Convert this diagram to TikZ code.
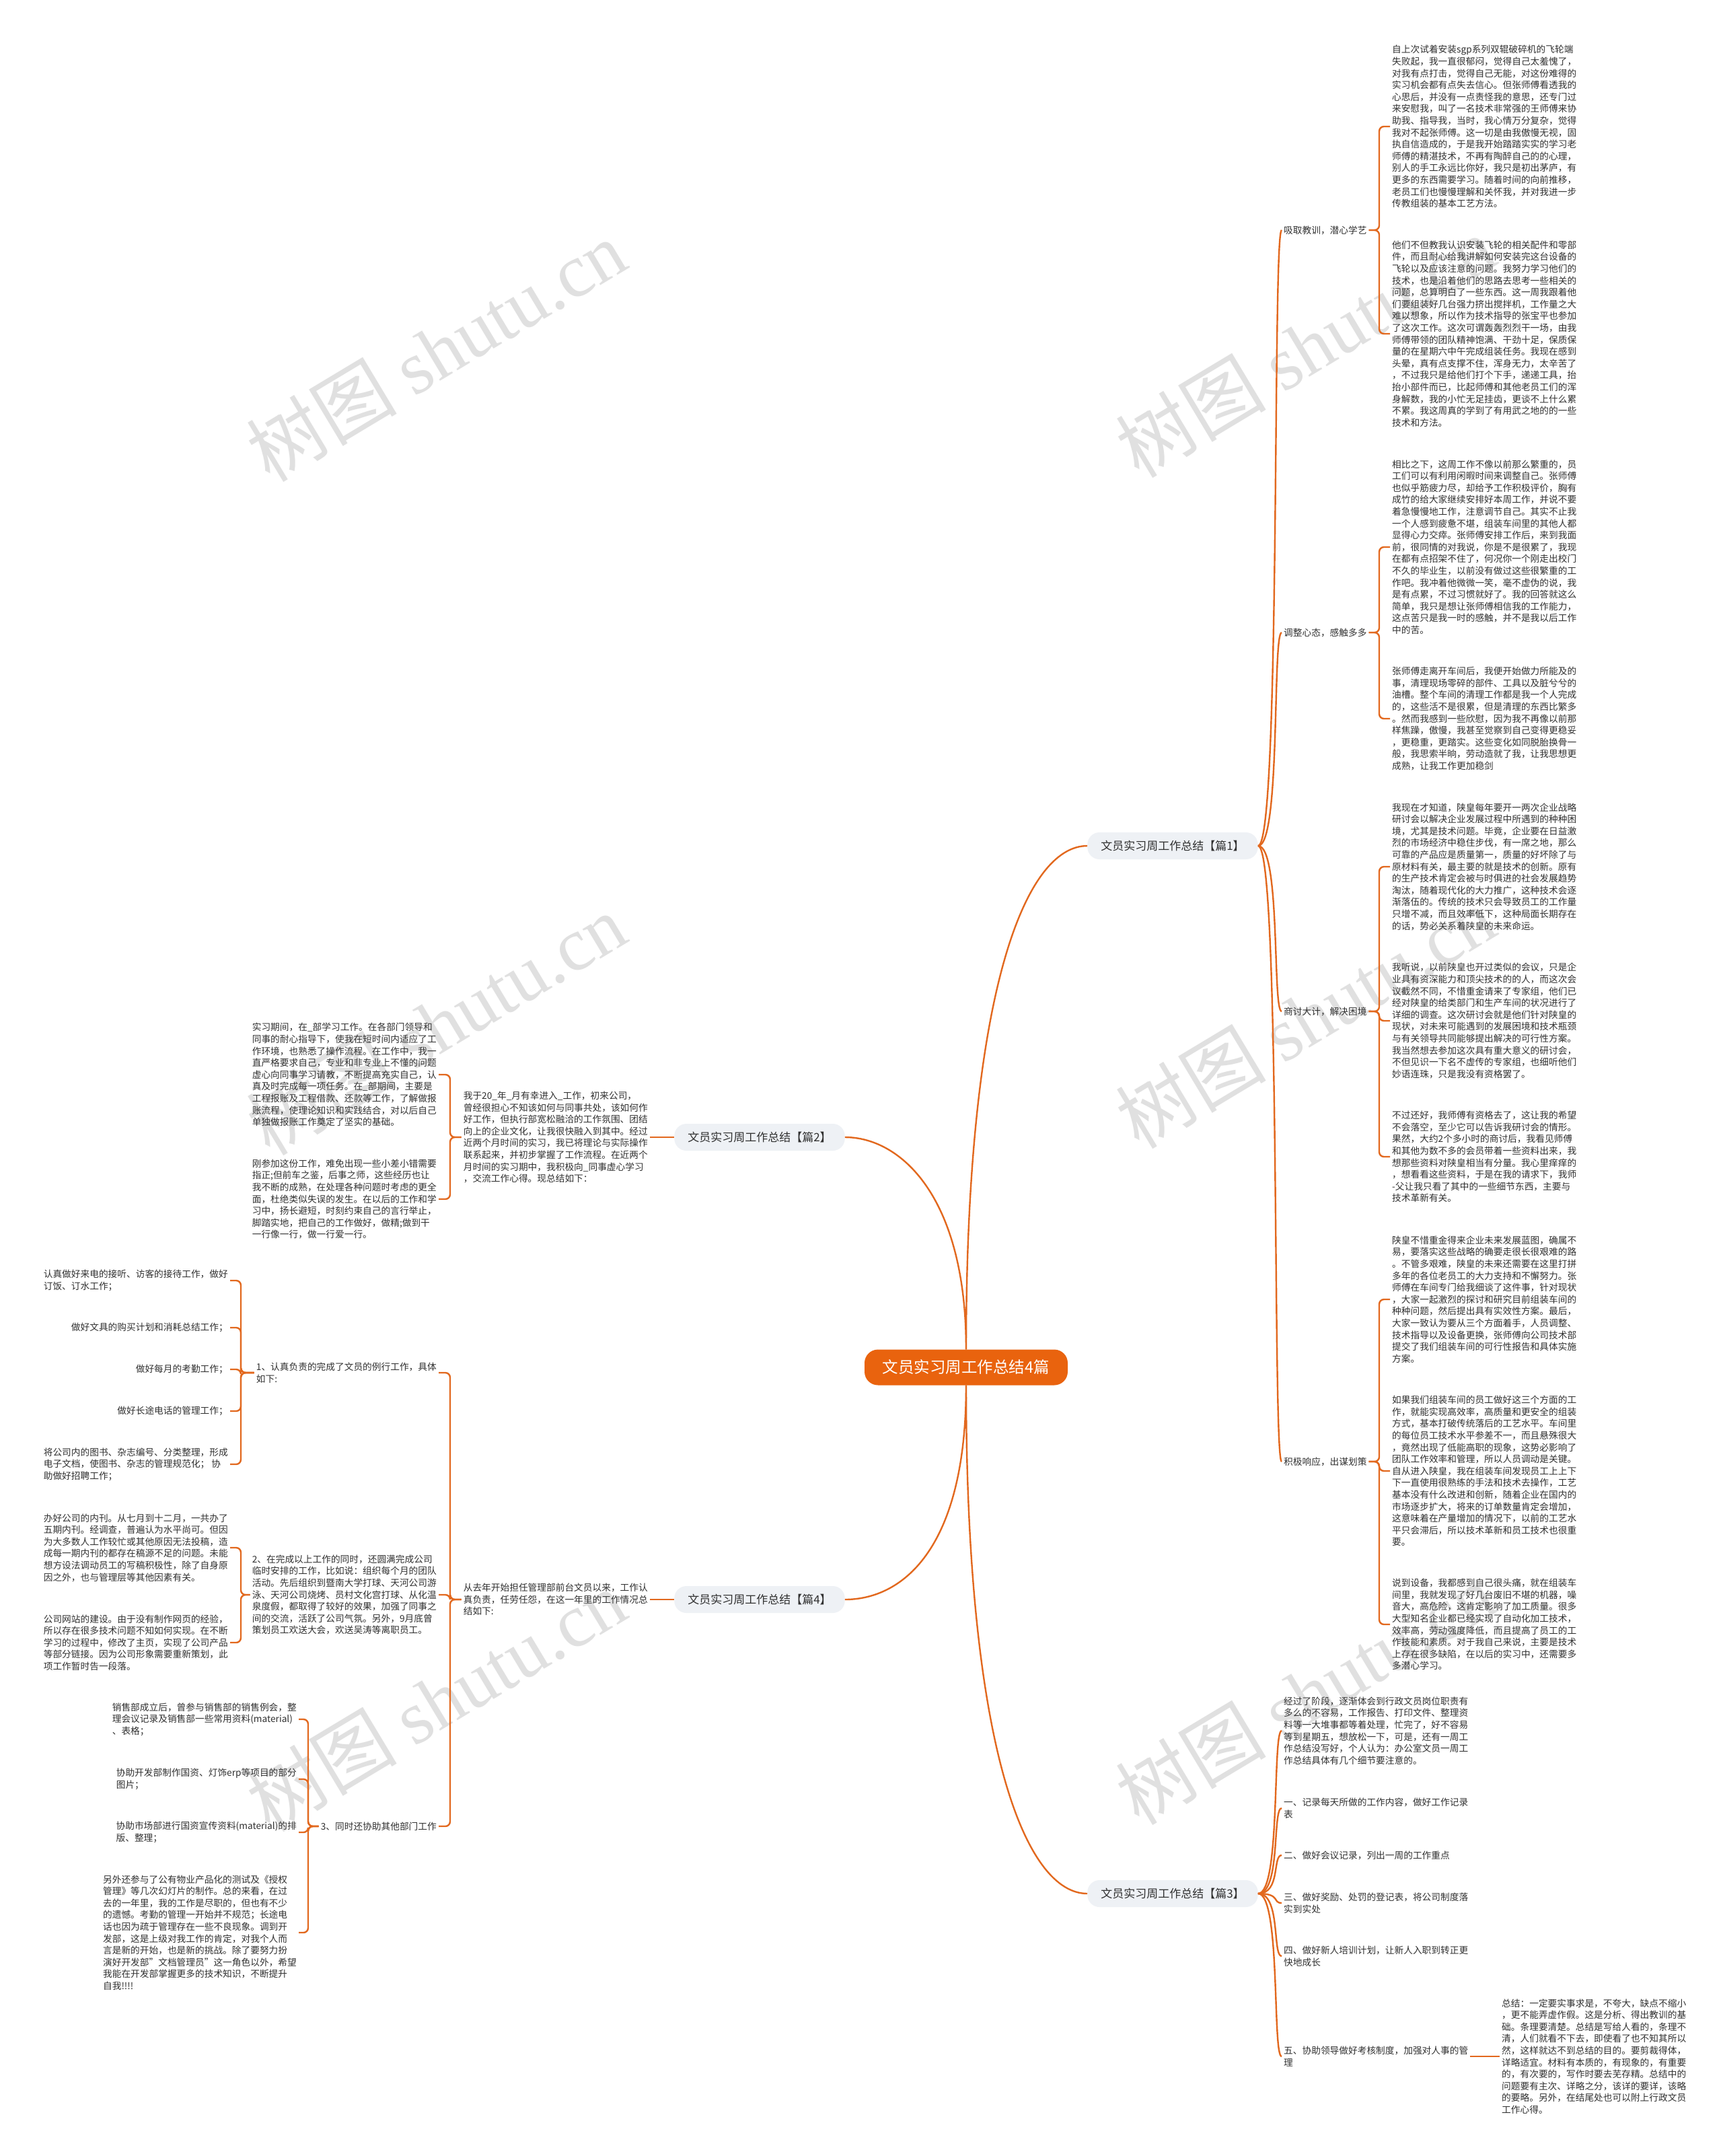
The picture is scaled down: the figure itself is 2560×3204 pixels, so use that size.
\documentclass[tikz,border=0pt]{standalone}
\usepackage{fontspec}
\setmainfont{Noto Sans CJK SC}
\newfontfamily\wmserif{Liberation Serif}
\usetikzlibrary{calc}
\definecolor{lineor}{RGB}{226,104,30}
\definecolor{rootor}{RGB}{233,99,14}
\definecolor{topicbg}{RGB}{238,241,245}
\definecolor{textc}{RGB}{48,48,48}
\definecolor{wmc}{RGB}{224,224,224}
\tikzset{
  conn/.style={draw=lineor, line width=2.4pt, rounded corners=7pt},
  curv/.style={draw=lineor, line width=2.4pt},
  txt/.style={font=\fontsize{13.7}{17.6}\selectfont, text=textc, align=left, inner sep=3pt},
  topic/.style={font=\fontsize{17}{20}\selectfont, text=textc, fill=topicbg, rounded corners=18pt, inner xsep=20pt, minimum height=40pt},
  root/.style={fill=rootor, text=white, rounded corners=20pt, font=\fontsize{23.5}{28}\selectfont, minimum width=302pt, minimum height=53pt},
  wm/.style={text=wmc, rotate=31, font=\fontsize{112}{120}\selectfont, inner sep=0pt}
}
\begin{document}
\begin{tikzpicture}[x=1pt,y=-1pt]
\fill[white] (0,0) rectangle (2560,3204);
\useasboundingbox (0,0) rectangle (2560,3204);
% watermarks
\node[wm] (wm1) at (648,521) {树图 {\wmserif shutu.cn}};
\node[wm] (wm2) at (1940,515) {树图 {\wmserif shutu.cn}};
\node[wm] (wm3) at (648,1522) {树图 {\wmserif shutu.cn}};
\node[wm] (wm4) at (1940,1512) {树图 {\wmserif shutu.cn}};
\node[wm] (wm5) at (648,2527) {树图 {\wmserif shutu.cn}};
\node[wm] (wm6) at (1940,2517) {树图 {\wmserif shutu.cn}};

% level 1
\node[root] (root) at (1436,2032) {文员实习周工作总结4篇};
\node[topic] (p1) at (1743,1257) {文员实习周工作总结【篇1】};
\node[topic] (p3) at (1743,2814) {文员实习周工作总结【篇3】};
\node[topic] (p2) at (1129,1690) {文员实习周工作总结【篇2】};
\node[topic] (p4) at (1129,2377) {文员实习周工作总结【篇4】};

% ===== 篇1 =====
\node[txt, anchor=west] (a1) at (1905,342) {吸取教训，潜心学艺};
\node[txt, anchor=west] (a2) at (1905,940) {调整心态，感触多多};
\node[txt, anchor=west] (a3) at (1905,1503) {商讨大计，解决困境};
\node[txt, anchor=west] (a4) at (1905,2172) {积极响应，出谋划策};

\node[txt, anchor=west] (r1) at (2066,188) {自上次试着安装sgp系列双辊破碎机的飞轮端\\失败起，我一直很郁闷，觉得自己太羞愧了，\\对我有点打击，觉得自己无能，对这份难得的\\实习机会都有点失去信心。但张师傅看透我的\\心思后，并没有一点责怪我的意思，还专门过\\来安慰我，叫了一名技术非常强的王师傅来协\\助我、指导我，当时，我心情万分复杂，觉得\\我对不起张师傅。这一切是由我傲慢无视，固\\执自信造成的，于是我开始踏踏实实的学习老\\师傅的精湛技术，不再有陶醉自己的的心理，\\别人的手工永远比你好，我只是初出茅庐，有\\更多的东西需要学习。随着时间的向前推移，\\老员工们也慢慢理解和关怀我，并对我进一步\\传教组装的基本工艺方法。};
\node[txt, anchor=west] (r2) at (2066,496) {他们不但教我认识安装飞轮的相关配件和零部\\件，而且耐心给我讲解如何安装完这台设备的\\飞轮以及应该注意的问题。我努力学习他们的\\技术，也是沿着他们的思路去思考一些相关的\\问题，总算明白了一些东西。这一周我跟着他\\们要组装好几台强力挤出搅拌机，工作量之大\\难以想象，所以作为技术指导的张宝平也参加\\了这次工作。这次可谓轰轰烈烈干一场，由我\\师傅带领的团队精神饱满、干劲十足，保质保\\量的在星期六中午完成组装任务。我现在感到\\头晕，真有点支撑不住，浑身无力，太辛苦了\\，不过我只是给他们打个下手，递递工具，抬\\抬小部件而已，比起师傅和其他老员工们的浑\\身解数，我的小忙无足挂齿，更谈不上什么累\\不累。我这周真的学到了有用武之地的的一些\\技术和方法。};
\node[txt, anchor=west] (r3) at (2066,813) {相比之下，这周工作不像以前那么繁重的，员\\工们可以有利用闲暇时间来调整自己。张师傅\\也似乎筋疲力尽，却给予工作积极评价，胸有\\成竹的给大家继续安排好本周工作，并说不要\\着急慢慢地工作，注意调节自己。其实不止我\\一个人感到疲惫不堪，组装车间里的其他人都\\显得心力交瘁。张师傅安排工作后，来到我面\\前，很同情的对我说，你是不是很累了，我现\\在都有点招架不住了，何况你一个刚走出校门\\不久的毕业生，以前没有做过这些很繁重的工\\作吧。我冲着他微微一笑，毫不虚伪的说，我\\是有点累，不过习惯就好了。我的回答就这么\\简单，我只是想让张师傅相信我的工作能力，\\这点苦只是我一时的感触，并不是我以后工作\\中的苦。};
\node[txt, anchor=west] (r4) at (2066,1068) {张师傅走离开车间后，我便开始做力所能及的\\事，清理现场零碎的部件、工具以及脏兮兮的\\油槽。整个车间的清理工作都是我一个人完成\\的，这些活不是很累，但是清理的东西比繁多\\。然而我感到一些欣慰，因为我不再像以前那\\样焦躁，傲慢，我甚至觉察到自己变得更稳妥\\，更稳重，更踏实。这些变化如同脱胎换骨一\\般，我思索半晌，劳动造就了我，让我思想更\\成熟，让我工作更加稳剑};
\node[txt, anchor=west] (r5) at (2066,1288) {我现在才知道，陕皇每年要开一两次企业战略\\研讨会以解决企业发展过程中所遇到的种种困\\境，尤其是技术问题。毕竟，企业要在日益激\\烈的市场经济中稳住步伐，有一席之地，那么\\可靠的产品应是质量第一，质量的好坏除了与\\原材料有关，最主要的就是技术的创新。原有\\的生产技术肯定会被与时俱进的社会发展趋势\\淘汰，随着现代化的大力推广，这种技术会逐\\渐落伍的。传统的技术只会导致员工的工作量\\只增不减，而且效率低下，这种局面长期存在\\的话，势必关系着陕皇的未来命运。};
\node[txt, anchor=west] (r6) at (2066,1517) {我听说，以前陕皇也开过类似的会议，只是企\\业具有资深能力和顶尖技术的的人，而这次会\\议截然不同，不惜重金请来了专家组，他们已\\经对陕皇的给类部门和生产车间的状况进行了\\详细的调查。这次研讨会就是他们针对陕皇的\\现状，对未来可能遇到的发展困境和技术瓶颈\\与有关领导共同能够提出解决的可行性方案。\\我当然想去参加这次具有重大意义的研讨会，\\不但见识一下名不虚传的专家组，也细听他们\\妙语连珠，只是我没有资格罢了。};
\node[txt, anchor=west] (r7) at (2066,1719) {不过还好，我师傅有资格去了，这让我的希望\\不会落空，至少它可以告诉我研讨会的情形。\\果然，大约2个多小时的商讨后，我看见师傅\\和其他为数不多的会员带着一些资料出来，我\\想那些资料对陕皇相当有分量。我心里痒痒的\\，想看看这些资料，于是在我的请求下，我师\\-父让我只看了其中的一些细节东西，主要与\\技术革新有关。};
\node[txt, anchor=west] (r8) at (2066,1931) {陕皇不惜重金得来企业未来发展蓝图，确属不\\易，要落实这些战略的确要走很长很艰难的路\\。不管多艰难，陕皇的未来还需要在这里打拼\\多年的各位老员工的大力支持和不懈努力。张\\师傅在车间专门给我细谈了这件事，针对现状\\，大家一起激烈的探讨和研究目前组装车间的\\种种问题，然后提出具有实效性方案。最后，\\大家一致认为要从三个方面着手，人员调整、\\技术指导以及设备更换，张师傅向公司技术部\\提交了我们组装车间的可行性报告和具体实施\\方案。};
\node[txt, anchor=west] (r9) at (2066,2186) {如果我们组装车间的员工做好这三个方面的工\\作，就能实现高效率，高质量和更安全的组装\\方式，基本打破传统落后的工艺水平。车间里\\的每位员工技术水平参差不一，而且悬殊很大\\，竟然出现了低能高职的现象，这势必影响了\\团队工作效率和管理，所以人员调动是关键。\\自从进入陕皇，我在组装车间发现员工上上下\\下一直使用很熟练的手法和技术去操作，工艺\\基本没有什么改进和创新，随着企业在国内的\\市场逐步扩大，将来的订单数量肯定会增加，\\这意味着在产量增加的情况下，以前的工艺水\\平只会滞后，所以技术革新和员工技术也很重\\要。};
\node[txt, anchor=west] (r10) at (2066,2414) {说到设备，我都感到自己很头痛，就在组装车\\间里，我就发现了好几台废旧不堪的机器，噪\\音大，高危险，这肯定影响了加工质量。很多\\大型知名企业都已经实现了自动化加工技术，\\效率高，劳动强度降低，而且提高了员工的工\\作技能和素质。对于我自己来说，主要是技术\\上存在很多缺陷，在以后的实习中，还需要多\\多潜心学习。};

% ===== 篇3 =====
\node[txt, anchor=west] (b1) at (1905,2572) {经过了阶段，逐渐体会到行政文员岗位职责有\\多么的不容易，工作报告、打印文件、整理资\\料等一大堆事都等着处理，忙完了，好不容易\\等到星期五，想放松一下，可是，还有一周工\\作总结没写好，个人认为：办公室文员一周工\\作总结具体有几个细节要注意的。};
\node[txt, anchor=west] (b2) at (1905,2687) {一、记录每天所做的工作内容，做好工作记录\\表};
\node[txt, anchor=west] (b3) at (1905,2757) {二、做好会议记录，列出一周的工作重点};
\node[txt, anchor=west] (b4) at (1905,2828) {三、做好奖励、处罚的登记表，将公司制度落\\实到实处};
\node[txt, anchor=west] (b5) at (1905,2907) {四、做好新人培训计划，让新人入职到转正更\\快地成长};
\node[txt, anchor=west] (b6) at (1905,3056) {五、协助领导做好考核制度，加强对人事的管\\理};
\node[txt, anchor=west] (b6a) at (2229,3056) {总结：一定要实事求是，不夸大，缺点不缩小\\，更不能弄虚作假。这是分析、得出教训的基\\础。条理要清楚。总结是写给人看的，条理不\\清，人们就看不下去，即使看了也不知其所以\\然，这样就达不到总结的目的。要剪裁得体，\\详略适宜。材料有本质的，有现象的，有重要\\的，有次要的，写作时要去芜存精。总结中的\\问题要有主次、详略之分，该详的要详，该略\\的要略。另外，在结尾处也可以附上行政文员\\工作心得。};

% ===== 篇2 =====
\node[txt, anchor=east] (c1) at (966,1690) {我于20\_年\_月有幸进入\_工作，初来公司，\\曾经很担心不知该如何与同事共处，该如何作\\好工作，但执行部宽松融洽的工作氛围、团结\\向上的企业文化，让我很快融入到其中。经过\\近两个月时间的实习，我已将理论与实际操作\\联系起来，并初步掌握了工作流程。在近两个\\月时间的实习期中，我积极向\_同事虚心学习\\，交流工作心得。现总结如下：};
\node[txt, anchor=east] (c1a) at (652,1597) {实习期间，在\_部学习工作。在各部门领导和\\同事的耐心指导下，使我在短时间内适应了工\\作环境，也熟悉了操作流程。在工作中，我一\\直严格要求自己，专业和非专业上不懂的问题\\虚心向同事学习请教，不断提高充实自己，认\\真及时完成每一项任务。在\_部期间，主要是\\工程报账及工程借款、还款等工作，了解做报\\账流程，使理论知识和实践结合，对以后自己\\单独做报账工作奠定了坚实的基础。};
\node[txt, anchor=east] (c1b) at (652,1782) {刚参加这份工作，难免出现一些小差小错需要\\指正;但前车之鉴，后事之师，这些经历也让\\我不断的成熟，在处理各种问题时考虑的更全\\面，杜绝类似失误的发生。在以后的工作和学\\习中，扬长避短，时刻约束自己的言行举止，\\脚踏实地，把自己的工作做好，做精;做到干\\一行像一行，做一行爱一行。};

% ===== 篇4 =====
\node[txt, anchor=east] (d0) at (966,2377) {从去年开始担任管理部前台文员以来，工作认\\真负责，任劳任怨，在这一年里的工作情况总\\结如下:};
\node[txt, anchor=east] (d1) at (652,2040) {1、认真负责的完成了文员的例行工作，具体\\如下:};
\node[txt, anchor=east] (d2) at (652,2370) {2、在完成以上工作的同时，还圆满完成公司\\临时安排的工作，比如说：组织每个月的团队\\活动。先后组织到暨南大学打球、天河公司游\\泳、天河公司烧烤、员村文化宫打球、从化温\\泉度假，都取得了较好的效果，加强了同事之\\间的交流，活跃了公司气氛。另外，9月底曾\\策划员工欢送大会，欢送吴涛等离职员工。};
\node[txt, anchor=east] (d3) at (652,2714) {3、同时还协助其他部门工作};

\node[txt, anchor=east] (d1a) at (342,1903) {认真做好来电的接听、访客的接待工作，做好\\订饭、订水工作；};
\node[txt, anchor=east] (d1b) at (342,1973) {做好文具的购买计划和消耗总结工作；};
\node[txt, anchor=east] (d1c) at (342,2035) {做好每月的考勤工作；};
\node[txt, anchor=east] (d1d) at (342,2097) {做好长途电话的管理工作；};
\node[txt, anchor=east] (d1e) at (342,2176) {将公司内的图书、杂志编号、分类整理，形成\\电子文档，使图书、杂志的管理规范化； 协\\助做好招聘工作；};
\node[txt, anchor=east] (d2a) at (342,2300) {办好公司的内刊。从七月到十二月，一共办了\\五期内刊。经调查，普遍认为水平尚可。但因\\为大多数人工作较忙或其他原因无法投稿，造\\成每一期内刊的都存在稿源不足的问题。未能\\想方设法调动员工的写稿积极性，除了自身原\\因之外，也与管理层等其他因素有关。};
\node[txt, anchor=east] (d2b) at (342,2441) {公司网站的建设。由于没有制作网页的经验，\\所以存在很多技术问题不知如何实现。在不断\\学习的过程中，修改了主页，实现了公司产品\\等部分链接。因为公司形象需要重新策划，此\\项工作暂时告一段落。};
\node[txt, anchor=east] (d3a) at (444,2555) {销售部成立后，曾参与销售部的销售例会，整\\理会议记录及销售部一些常用资料(material)\\、表格；};
\node[txt, anchor=east] (d3b) at (444,2644) {协助开发部制作国资、灯饰erp等项目的部分\\图片；};
\node[txt, anchor=east] (d3c) at (444,2723) {协助市场部进行国资宣传资料(material)的排\\版、整理；};
\node[txt, anchor=east] (d3d) at (444,2872) {另外还参与了公有物业产品化的测试及《授权\\管理》等几次幻灯片的制作。总的来看，在过\\去的一年里，我的工作是尽职的，但也有不少\\的遗憾。考勤的管理一开始并不规范；长途电\\话也因为疏于管理存在一些不良现象。调到开\\发部，这是上级对我工作的肯定，对我个人而\\言是新的开始，也是新的挑战。除了要努力扮\\演好开发部"文档管理员"这一角色以外，希望\\我能在开发部掌握更多的技术知识，不断提升\\自我!!!!};

% bracket x positions
\coordinate (bxa) at (2050,0);
\coordinate (bxc) at (669,0);
\coordinate (bxd) at (358,0);
\coordinate (bxe) at (458,0);

% root -> topics (vertical start, horizontal end)
\draw[curv] (root.north) .. controls ($(root.north)+(0,-540)$) and ($(p1.west)+(-90,0)$) .. (p1.west);
\draw[curv] (root.south) .. controls ($(root.south)+(0,545)$) and ($(p3.west)+(-90,0)$) .. (p3.west);
\draw[curv] (root.north) .. controls ($(root.north)+(0,-228)$) and ($(p2.east)+(82,0)$) .. (p2.east);
\draw[curv] (root.south) .. controls ($(root.south)+(0,248)$) and ($(p4.east)+(82,0)$) .. (p4.east);

% p1 -> labels
\foreach \c in {a1,a2,a3,a4}{
  \draw[curv] (p1.east) .. controls +(34,0) and +(-14,0) .. (\c.west);
}
% p3 -> items
\foreach \c in {b1,b2,b3,b4,b5,b6}{
  \draw[curv] (p3.east) .. controls +(34,0) and +(-14,0) .. (\c.west);
}
\draw[conn] (b6.east) -- (b6a.west);

% labels -> text blocks
\foreach \p/\c in {a1/r1,a1/r2,a2/r3,a2/r4,a3/r5,a3/r6,a3/r7,a4/r8,a4/r9,a4/r10}{
  \draw[conn] (\p.east) -- (\p.east -| bxa) -- (bxa |- \c.west) -- (\c.west);
}

% left side
\draw[conn] (p2.west) -- (c1.east);
\draw[conn] (p4.west) -- (d0.east);
\foreach \p/\c in {c1/c1a,c1/c1b,d0/d1,d0/d2,d0/d3}{
  \draw[conn] (\p.west) -- (\p.west -| bxc) -- (bxc |- \c.east) -- (\c.east);
}
\foreach \p/\c in {d1/d1a,d1/d1b,d1/d1c,d1/d1d,d1/d1e,d2/d2a,d2/d2b}{
  \draw[conn] (\p.west) -- (\p.west -| bxd) -- (bxd |- \c.east) -- (\c.east);
}
\foreach \p/\c in {d3/d3a,d3/d3b,d3/d3c,d3/d3d}{
  \draw[conn] (\p.west) -- (\p.west -| bxe) -- (bxe |- \c.east) -- (\c.east);
}
\end{tikzpicture}
\end{document}
